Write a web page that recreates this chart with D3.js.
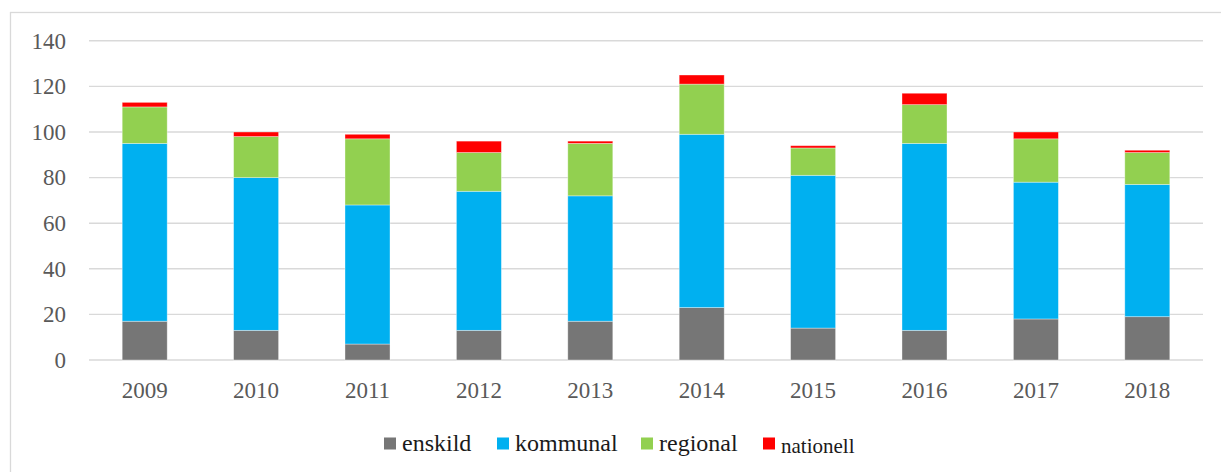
<!DOCTYPE html>
<html lang="sv">
<head>
    <meta charset="UTF-8">
    <title>Stacked bars 2009-2018</title>
    <script src="https://d3js.org/d3.v7.min.js"></script>
    <style>
        body { margin: 0; background: #fff; }
        svg text { font-family: "Liberation Serif", "DejaVu Serif", serif; }
    </style>
</head>
<body>
    <div id="chart"></div>
    <script>
        const years = ["2009", "2010", "2011", "2012", "2013", "2014", "2015", "2016", "2017", "2018"];
        const enskild   = [17, 13,  7, 13, 17, 23, 14, 13, 18, 19];
        const kommunal  = [78, 67, 61, 61, 55, 76, 67, 82, 60, 58];
        const regional  = [16, 18, 29, 17, 23, 22, 12, 17, 19, 14];
        const nationell = [ 2,  2,  2,  5,  1,  4,  1,  5,  3,  1];
        const yTicks = [0, 20, 40, 60, 80, 100, 120, 140];

        const seriesNames = ["enskild", "kommunal", "regional", "nationell"];
        const seriesColors = ["#767676", "#00b0f0", "#92d050", "#ff0000"];

        const width = 1221;
        const height = 472;
        const margin = { top: 40.8, right: 18, bottom: 112, left: 89 };

        const svg = d3.select("#chart")
            .append("svg")
            .attr("width", width)
            .attr("height", height);

        // frame (only top and left edges are visible in the picture)
        svg.append("rect")
            .attr("x", 10.5)
            .attr("y", 12.5)
            .attr("width", 1220)
            .attr("height", 480)
            .attr("fill", "none")
            .attr("stroke", "#d9d9d9")
            .attr("stroke-width", 1.3);

        const rows = years.map((y, i) => ({
            year: y,
            enskild: enskild[i],
            kommunal: kommunal[i],
            regional: regional[i],
            nationell: nationell[i]
        }));

        const stacked = d3.stack().keys(seriesNames)(rows);

        const x = d3.scaleBand()
            .domain(years)
            .range([margin.left, width - margin.right])
            .paddingInner(0.596)
            .paddingOuter(0.298);

        const yScale = d3.scaleLinear()
            .domain([0, 140])
            .range([height - margin.bottom, margin.top]);

        // grid lines
        svg.append("g")
            .selectAll("line")
            .data(yTicks)
            .join("line")
            .attr("x1", margin.left)
            .attr("x2", width - margin.right)
            .attr("y1", d => yScale(d))
            .attr("y2", d => yScale(d))
            .attr("stroke", "#d9d9d9")
            .attr("stroke-width", 1.4);

        // bars
        svg.append("g")
            .selectAll("g")
            .data(stacked)
            .join("g")
            .attr("fill", (d, i) => seriesColors[i])
            .selectAll("rect")
            .data(d => d)
            .join("rect")
            .attr("x", d => x(d.data.year))
            .attr("width", x.bandwidth())
            .attr("y", d => yScale(d[1]))
            .attr("height", d => yScale(d[0]) - yScale(d[1]))
            .attr("stroke", "rgba(255,255,255,0.45)")
            .attr("stroke-width", 0.8);

        // y axis labels
        svg.append("g")
            .selectAll("text")
            .data(yTicks)
            .join("text")
            .attr("x", 66)
            .attr("y", d => yScale(d))
            .attr("dy", "0.34em")
            .attr("text-anchor", "end")
            .attr("font-size", "23px")
            .attr("fill", "#595959")
            .text(d => d);

        // x axis labels
        svg.append("g")
            .selectAll("text")
            .data(years)
            .join("text")
            .attr("x", d => x(d) + x.bandwidth() / 2)
            .attr("y", 398)
            .attr("text-anchor", "middle")
            .attr("font-size", "23px")
            .attr("fill", "#595959")
            .text(d => d);

        // legend
        const legendX = [384, 497, 641, 763];
        const legend = svg.append("g");
        seriesNames.forEach((name, i) => {
            legend.append("rect")
                .attr("x", legendX[i])
                .attr("y", 437.5)
                .attr("width", 12)
                .attr("height", 12)
                .attr("fill", seriesColors[i]);
            legend.append("text")
                .attr("x", legendX[i] + 18)
                .attr("y", i === 3 ? 453 : 450.5)
                .attr("font-size", i === 3 ? "21px" : "24px")
                .attr("fill", "#1a1a1a")
                .text(name);
        });
    </script>
</body>
</html>
